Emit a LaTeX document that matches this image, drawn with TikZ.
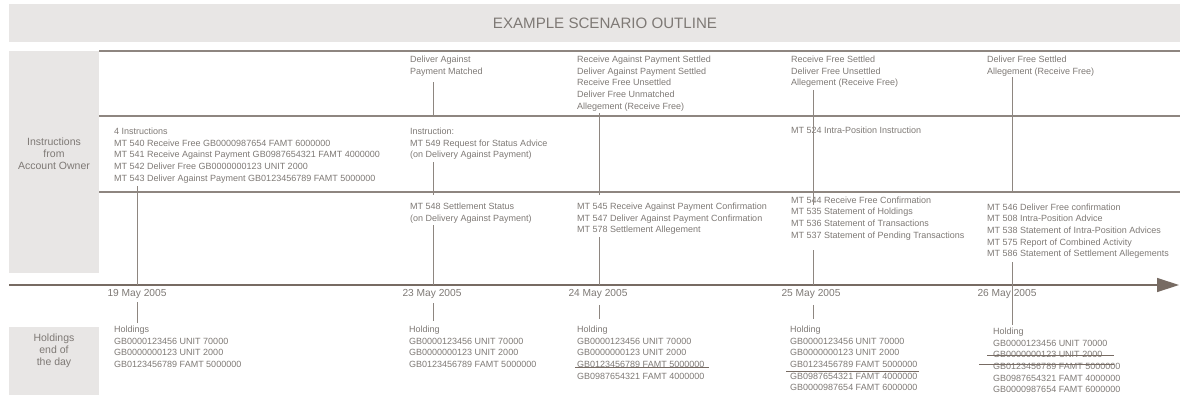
\documentclass[tikz,border=0pt]{standalone}
\usepackage{fontspec}
\setmainfont{Liberation Sans}
\usepackage{tikz}
\usetikzlibrary{arrows.meta, positioning}
\usepackage{xcolor}
\definecolor{bandgray}{HTML}{E8E6E5}
\definecolor{rulegray}{HTML}{8E8680}
\definecolor{txtgray}{HTML}{7E7975}
\definecolor{axisbrown}{HTML}{776B63}

\begin{document}
\begin{tikzpicture}[
  x=1pt, y=-1pt,
  band/.style={fill=bandgray, draw=none},
  rowline/.style={draw=rulegray, line width=1.2pt},
  info/.style={anchor=north west, align=left, inner sep=0pt, text=txtgray, font=\fontsize{9}{11.6}\selectfont},
  side/.style={align=center, inner sep=0pt, text=txtgray, font=\fontsize{10.5}{11.8}\selectfont},
  day/.style={anchor=base, inner sep=0pt, text=txtgray, font=\fontsize{10.2}{12}\selectfont},
  tie/.style={draw=rulegray, line width=1pt},
  strike/.style={draw=axisbrown, line width=0.8pt},
  axis/.style={-{Triangle[length=22pt, width=14pt]}, draw=axisbrown, line width=1.3pt}
]
\useasboundingbox (0,0) rectangle (1183,402);

% Title band
\fill[band] (9,4) rectangle (1180,42);
\node[inner sep=0pt, text=txtgray, font=\fontsize{15.1}{18}\selectfont] (title) at (605,23) {EXAMPLE SCENARIO OUTLINE};

% Side panels
\fill[band] (9,51) rectangle (99,273);
\fill[band] (9,327) rectangle (99,395);
\node[side] (owner) at (54,154) {Instructions\\from\\Account Owner};
\node[side] (eod)   at (54,351) {Holdings\\end of\\the day};

% Row rules
\coordinate (r1) at (99,51);
\coordinate (r2) at (99,116);
\coordinate (r3) at (99,192);
\draw[rowline] (r1) -- (1180,51);
\draw[rowline] (r2) -- (1180,116);
\draw[rowline] (r3) -- (1180,192);

% Time axis and ticks
\coordinate (axstart) at (9,285);
\coordinate (axend)   at (1179,285);
\coordinate (t19) at (137,285);
\coordinate (t23) at (433,285);
\coordinate (t24) at (599,285);
\coordinate (t25) at (813,285);
\coordinate (t26) at (1012,285);
\draw[axis] (axstart) -- (axend);

\node[day] (d19) at (137,296.6)  {19 May 2005};
\node[day] (d23) at (432,296.6)  {23 May 2005};
\node[day] (d24) at (598,296.6)  {24 May 2005};
\node[day] (d25) at (811,296.6)  {25 May 2005};
\node[day] (d26) at (1007,296.6) {26 May 2005};

% Status row
\node[info] (st23) at (410,56) {Deliver Against\\Payment Matched};
\node[info] (st24) at (577,56) {Receive Against Payment Settled\\Deliver Against Payment Settled\\Receive Free Unsettled\\Deliver Free Unmatched\\Allegement (Receive Free)};
\node[info] (st25) at (791,56) {Receive Free Settled\\Deliver Free Unsettled\\Allegement (Receive Free)};
\node[info] (st26) at (987,56) {Deliver Free Settled\\Allegement (Receive Free)};

% Instruction row
\node[info] (in19) at (114,128) {4 Instructions\\MT 540 Receive Free GB0000987654 FAMT 6000000\\MT 541 Receive Against Payment GB0987654321 FAMT 4000000\\MT 542 Deliver Free GB0000000123 UNIT 2000\\MT 543 Deliver Against Payment GB0123456789 FAMT 5000000};
\node[info] (in23) at (410,128) {Instruction:\\MT 549 Request for Status Advice\\(on Delivery Against Payment)};
\node[info] (in25) at (791,127) {MT 524 Intra-Position Instruction};

% Message row
\node[info] (ms23) at (410,203) {MT 548 Settlement Status\\(on Delivery Against Payment)};
\node[info] (ms24) at (577,203) {MT 545 Receive Against Payment Confirmation\\MT 547 Deliver Against Payment Confirmation\\MT 578 Settlement Allegement};
\node[info] (ms25) at (791,196.5) {MT 544 Receive Free Confirmation\\MT 535 Statement of Holdings\\MT 536 Statement of Transactions\\MT 537 Statement of Pending Transactions};
\node[info] (ms26) at (987,203.5) {MT 546 Deliver Free confirmation\\MT 508 Intra-Position Advice\\MT 538 Statement of Intra-Position Advices\\MT 575 Report of Combined Activity\\MT 586 Statement of Settlement Allegements};

% Holdings end of the day
\node[info] (h19) at (114,326) {Holdings\\GB0000123456 UNIT 70000\\GB0000000123 UNIT 2000\\GB0123456789 FAMT 5000000};
\node[info] (h23) at (409,326) {Holding\\GB0000123456 UNIT 70000\\GB0000000123 UNIT 2000\\GB0123456789 FAMT 5000000};
\node[info] (h24) at (577,326) {Holding\\GB0000123456 UNIT 70000\\GB0000000123 UNIT 2000\\GB0123456789 FAMT 5000000\\GB0987654321 FAMT 4000000};
\node[info] (h25) at (790,326) {Holding\\GB0000123456 UNIT 70000\\GB0000000123 UNIT 2000\\GB0123456789 FAMT 5000000\\GB0987654321 FAMT 4000000\\GB0000987654 FAMT 6000000};
\node[info] (h26) at (993,328) {Holding\\GB0000123456 UNIT 70000\\GB0000000123 UNIT 2000\\GB0123456789 FAMT 5000000\\GB0987654321 FAMT 4000000\\GB0000987654 FAMT 6000000};

% Ties to the axis
\draw[tie, shorten <=3pt] (t19 |- in19.south) -- (t19);
\draw[tie, shorten <=3.3pt, shorten >=3pt] (t19 |- d19.south) -- (t19 |- h19.north);

\draw[tie, shorten <=6pt] (t23 |- st23.south) -- (t23 |- r2);
\draw[tie, shorten <=2.4pt, shorten >=8pt] (t23 |- in23.south) -- (t23 |- ms23.north);
\draw[tie, shorten <=2pt] (t23 |- ms23.south) -- (t23);
\draw[tie, shorten <=4.3pt, shorten >=5pt] (t23 |- d23.south) -- (t23 |- h23.north);

\draw[tie, shorten <=2pt, shorten >=8pt] (t24 |- st24.south) -- (t24 |- ms24.north);
\draw[tie, shorten <=2.4pt] (t24 |- ms24.south) -- (t24);
\draw[tie, shorten <=6pt, shorten >=7pt] (t24 |- d24.south) -- (t24 |- h24.north);

\draw[tie, shorten <=2.4pt, shorten >=-8.5pt] (t25 |- st25.south) -- (t25 |- ms25.north);
\draw[tie, shorten <=10pt] (t25 |- ms25.south) -- (t25);
\draw[tie, shorten <=6pt, shorten >=7pt] (t25 |- d25.south) -- (t25 |- h25.north);

\draw[tie, shorten <=1pt, shorten >=10.5pt] (t26 |- st26.south) -- (t26 |- ms26.north);
\draw[tie, shorten <=3.5pt, shorten >=3pt] (t26 |- ms26.south) -- (t26 |- h26.north);

% Struck holdings
\draw[strike] (575,367) -- (709,367);
\draw[strike] (786,371) -- (919,371);
\draw[strike] (987,355) -- (1114,355);
\draw[strike] (979,364.5) -- (1114,364.5);
\end{tikzpicture}
\end{document}
